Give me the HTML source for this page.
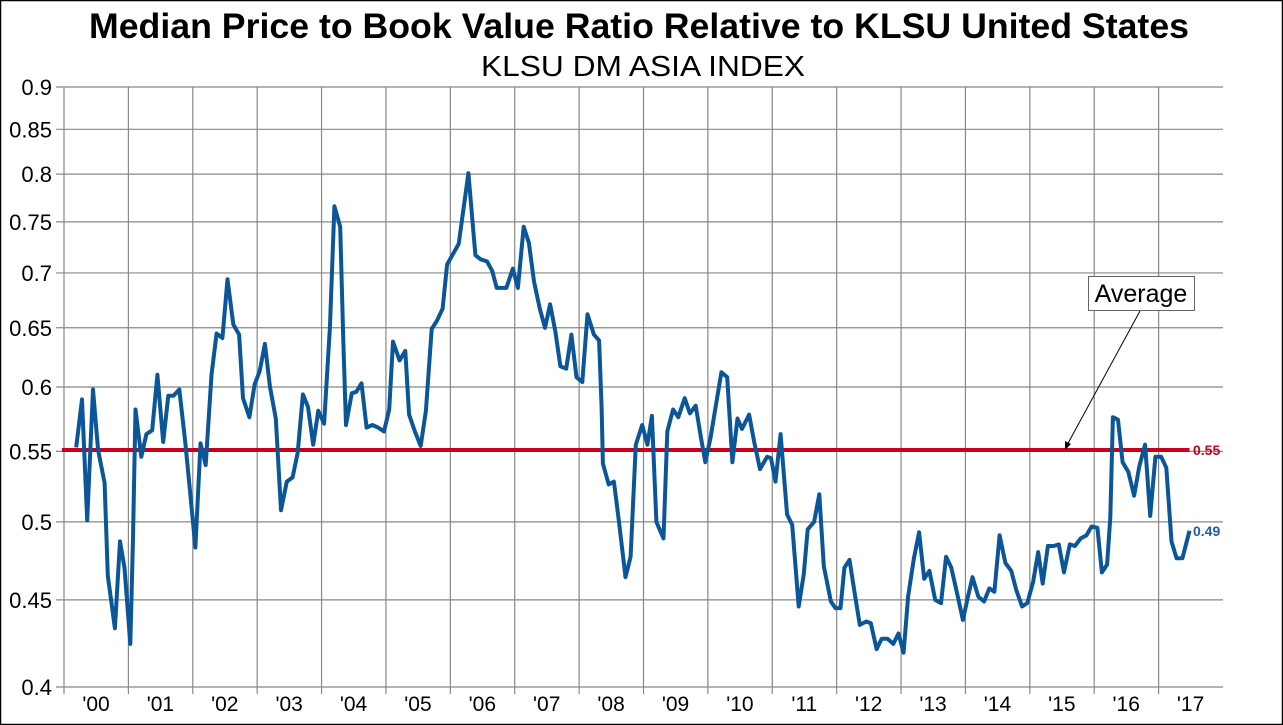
<!DOCTYPE html>
<html><head><meta charset="utf-8"><style>
body{margin:0;background:#fff}
svg{display:block;font-family:"Liberation Sans",Arial,sans-serif}
</style></head><body>
<svg id="chart" width="1283" height="725" viewBox="0 0 1283 725" xmlns="http://www.w3.org/2000/svg">
<rect x="0.5" y="0.5" width="1282" height="724" fill="#fff" stroke="#000" stroke-width="1.5"/>
<text x="639" y="38" text-anchor="middle" font-size="35.5" font-weight="bold" textLength="1100" lengthAdjust="spacingAndGlyphs">Median Price to Book Value Ratio Relative to KLSU United States</text>
<text x="643" y="76" text-anchor="middle" font-size="29" textLength="324" lengthAdjust="spacingAndGlyphs">KLSU DM ASIA INDEX</text>
<g id="grid"></g>
<g id="yticks"></g>
<g id="xticks"></g>
<g id="series"></g>
</svg>
<script>
const yTicks=[0.4,0.45,0.5,0.55,0.6,0.65,0.7,0.75,0.8,0.85,0.9];
const yTickLabels=["0.4","0.45","0.5","0.55","0.6","0.65","0.7","0.75","0.8","0.85","0.9"];
const years=[2000,2001,2002,2003,2004,2005,2006,2007,2008,2009,2010,2011,2012,2013,2014,2015,2016,2017];
const yearLabels=["'00","'01","'02","'03","'04","'05","'06","'07","'08","'09","'10","'11","'12","'13","'14","'15","'16","'17"];
const averageValue=0.551;
const averageLabel="0.55";
const lastLabel="0.49";
const dates=[2000.19,2000.28,2000.36,2000.45,2000.53,2000.63,2000.68,2000.79,2000.87,2000.94,2001.03,2001.07,2001.11,2001.2,2001.28,2001.37,2001.45,2001.54,2001.62,2001.7,2001.79,2001.88,2001.96,2002.04,2002.12,2002.2,2002.29,2002.37,2002.46,2002.54,2002.63,2002.72,2002.78,2002.88,2002.96,2003.04,2003.12,2003.2,2003.29,2003.37,2003.46,2003.55,2003.63,2003.71,2003.79,2003.87,2003.95,2004.04,2004.13,2004.2,2004.29,2004.34,2004.38,2004.47,2004.54,2004.62,2004.7,2004.79,2004.88,2004.97,2005.05,2005.11,2005.21,2005.3,2005.36,2005.45,2005.54,2005.62,2005.71,2005.79,2005.88,2005.95,2006.13,2006.28,2006.39,2006.47,2006.57,2006.65,2006.72,2006.87,2006.97,2007.05,2007.14,2007.22,2007.3,2007.39,2007.47,2007.55,2007.63,2007.71,2007.8,2007.88,2007.96,2008.05,2008.13,2008.23,2008.31,2008.35,2008.37,2008.46,2008.54,2008.62,2008.72,2008.8,2008.88,2008.98,2009.06,2009.13,2009.2,2009.31,2009.37,2009.46,2009.54,2009.64,2009.72,2009.81,2009.89,2009.96,2010.04,2010.12,2010.21,2010.3,2010.38,2010.46,2010.53,2010.64,2010.72,2010.81,2010.92,2010.98,2011.05,2011.13,2011.23,2011.31,2011.41,2011.49,2011.55,2011.65,2011.73,2011.8,2011.91,2011.98,2012.06,2012.12,2012.2,2012.28,2012.36,2012.46,2012.53,2012.62,2012.7,2012.79,2012.88,2012.96,2013.04,2013.11,2013.2,2013.28,2013.36,2013.44,2013.53,2013.62,2013.7,2013.78,2013.87,2013.96,2014.04,2014.11,2014.2,2014.29,2014.37,2014.45,2014.53,2014.62,2014.71,2014.79,2014.88,2014.96,2015.05,2015.13,2015.2,2015.28,2015.37,2015.45,2015.53,2015.62,2015.7,2015.79,2015.88,2015.96,2016.05,2016.12,2016.2,2016.25,2016.29,2016.37,2016.44,2016.53,2016.62,2016.7,2016.79,2016.87,2016.95,2017.04,2017.12,2017.2,2017.28,2017.37,2017.48];
const values=[0.553,0.59,0.501,0.598,0.551,0.527,0.465,0.433,0.487,0.47,0.424,0.486,0.582,0.546,0.563,0.566,0.61,0.557,0.593,0.593,0.598,0.558,0.52,0.483,0.556,0.54,0.61,0.645,0.641,0.694,0.653,0.644,0.591,0.576,0.602,0.613,0.636,0.6,0.575,0.508,0.528,0.531,0.549,0.594,0.584,0.555,0.581,0.571,0.65,0.766,0.745,0.636,0.57,0.595,0.596,0.603,0.568,0.57,0.568,0.565,0.582,0.638,0.622,0.63,0.578,0.565,0.554,0.581,0.649,0.656,0.667,0.708,0.728,0.801,0.717,0.713,0.711,0.702,0.686,0.686,0.704,0.686,0.745,0.729,0.692,0.667,0.65,0.671,0.647,0.617,0.615,0.644,0.608,0.604,0.662,0.644,0.639,0.584,0.541,0.526,0.528,0.5,0.464,0.477,0.555,0.57,0.555,0.577,0.5,0.489,0.565,0.582,0.576,0.591,0.579,0.585,0.561,0.542,0.56,0.584,0.612,0.608,0.542,0.575,0.567,0.578,0.557,0.537,0.546,0.545,0.528,0.563,0.505,0.498,0.446,0.466,0.495,0.5,0.519,0.471,0.449,0.445,0.445,0.47,0.475,0.454,0.435,0.437,0.436,0.421,0.427,0.427,0.424,0.43,0.419,0.452,0.476,0.493,0.463,0.468,0.45,0.448,0.477,0.47,0.454,0.438,0.452,0.464,0.452,0.449,0.457,0.455,0.491,0.473,0.468,0.456,0.446,0.448,0.461,0.48,0.46,0.484,0.484,0.485,0.467,0.485,0.484,0.489,0.491,0.497,0.496,0.467,0.472,0.503,0.576,0.574,0.542,0.535,0.518,0.539,0.555,0.504,0.546,0.546,0.538,0.487,0.476,0.476,0.494];

const NS="http://www.w3.org/2000/svg";
const L=64,R=1223,T=87,B=687;
const yMin=0.4,yMax=0.9;
function yScale(v){return T+(Math.log(yMax)-Math.log(v))/(Math.log(yMax)-Math.log(yMin))*(B-T);}
function xScale(t){return L+(t-2000)*(R-L)/18;}
function mk(tag,attrs,parent){const e=document.createElementNS(NS,tag);for(const k in attrs)e.setAttribute(k,attrs[k]);parent.appendChild(e);return e;}

const grid=document.getElementById('grid'),yg=document.getElementById('yticks'),xg=document.getElementById('xticks'),sg=document.getElementById('series');
yTicks.forEach((v,i)=>{
  const y=yScale(v);
  const l=mk('line',{x1:L-8,x2:R,y1:y,y2:y,stroke:'#888','stroke-width':1.2},grid);
  
  
  const t=mk('text',{x:52,y:y+8,'text-anchor':'end','font-size':22},yg);
  t.textContent=yTickLabels[i];
  
  
});
years.forEach((yr,i)=>{
  const x=xScale(yr);
  const l=mk('line',{x1:x,x2:x,y1:T,y2:B+7,stroke:'#888','stroke-width':1.2},grid);
  
  
  const t=mk('text',{x:x+32,y:711,'text-anchor':'middle','font-size':21},xg);
  t.textContent=yearLabels[i];
  
  
});
const ay=yScale(averageValue);
const avg=mk('line',{x1:L-2,x2:xScale(dates[dates.length-1]),y1:ay,y2:ay,stroke:'#c8001e','stroke-width':4},sg);


const al=mk('text',{x:1193,y:ay+5,'font-size':14,'font-weight':'bold',fill:'#c8001e'},sg);
al.textContent=averageLabel;


let d='';
dates.forEach((t,i)=>{d+=(i?'L':'M')+xScale(t).toFixed(1)+','+yScale(values[i]).toFixed(1);});
const path=mk('path',{d:d,fill:'none',stroke:'#0a5699','stroke-width':4,'stroke-linejoin':'round'},sg);


const lastY=yScale(values[values.length-1]);
const ll=mk('text',{x:1193,y:lastY+5,'font-size':14,'font-weight':'bold',fill:'#1f5fa8'},sg);
ll.textContent=lastLabel;


const ann=mk('g',{},sg);


const box=mk('rect',{x:1088.5,y:276.5,width:106,height:34,fill:'#fff',stroke:'#666'},ann);


const at=mk('text',{x:1141,y:302,'text-anchor':'middle','font-size':25},ann);
at.textContent='Average';


const ar=mk('line',{x1:1140,y1:311,x2:1066,y2:447,stroke:'#000','stroke-width':1},ann);


const ah=mk('polygon',{points:'1065,450 1065,441 1071,444',fill:'#000'},ann);


</script>
</body></html>
